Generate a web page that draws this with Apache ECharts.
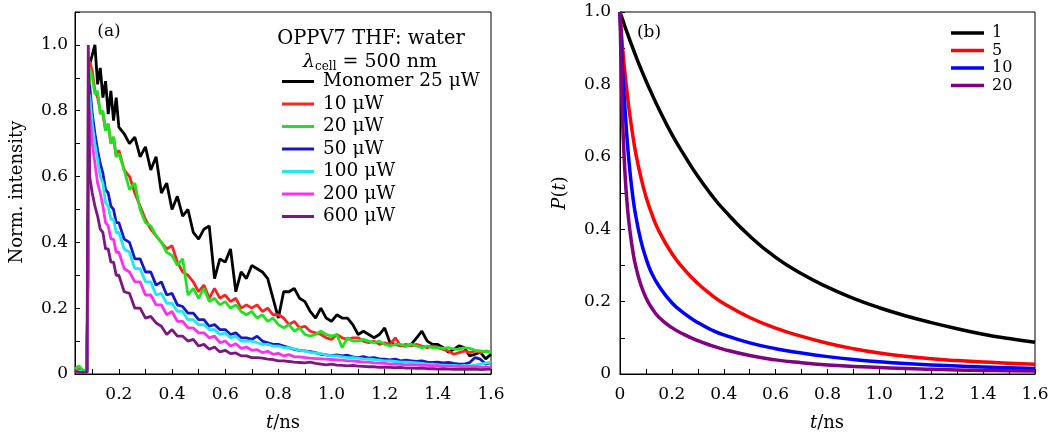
<!DOCTYPE html>
<html>
<head>
<meta charset="utf-8">
<script src="https://cdn.jsdelivr.net/npm/echarts@6/dist/echarts.min.js"></script>
<style>
  html, body { margin: 0; padding: 0; background: #fff; }
  #chart { width: 1052px; height: 432px; }
</style>
</head>
<body>
<div id="chart"></div>
<script>
// panel (a): measured decay traces, shared time grid (ns)
const tA = [
  0.035, 0.05, 0.065, 0.08, 0.085, 0.09, 0.10, 0.11, 0.12, 0.13,
  0.14, 0.15, 0.16, 0.17, 0.18, 0.19, 0.20, 0.22, 0.24, 0.26,
  0.28, 0.30, 0.32, 0.34, 0.36, 0.38, 0.40, 0.42, 0.44, 0.46,
  0.48, 0.50, 0.52, 0.54, 0.56, 0.58, 0.60, 0.62, 0.64, 0.66,
  0.68, 0.70, 0.72, 0.74, 0.76, 0.78, 0.80, 0.82, 0.84, 0.86,
  0.88, 0.90, 0.92, 0.94, 0.96, 0.98, 1.00, 1.02, 1.04, 1.06,
  1.08, 1.10, 1.12, 1.14, 1.16, 1.18, 1.20, 1.22, 1.24, 1.26,
  1.28, 1.30, 1.32, 1.34, 1.36, 1.38, 1.40, 1.42, 1.44, 1.46,
  1.48, 1.50, 1.52, 1.54, 1.56, 1.58, 1.60
];
const monomer25 = [
  0.01, 0.012, 0.008, 0.01, 0.01, 0.94, 0.97, 1.0, 0.88, 0.93,
  0.84, 0.89, 0.79, 0.86, 0.77, 0.84, 0.75, 0.73, 0.70, 0.72,
  0.66, 0.69, 0.62, 0.66, 0.55, 0.58, 0.50, 0.54, 0.48, 0.50,
  0.43, 0.41, 0.44, 0.45, 0.29, 0.35, 0.34, 0.38, 0.25, 0.31,
  0.29, 0.33, 0.32, 0.31, 0.29, 0.23, 0.17, 0.25, 0.25, 0.26,
  0.23, 0.22, 0.19, 0.17, 0.20, 0.17, 0.16, 0.18, 0.17, 0.17,
  0.15, 0.12, 0.13, 0.12, 0.11, 0.12, 0.14, 0.095, 0.09, 0.086,
  0.085, 0.09, 0.11, 0.13, 0.10, 0.09, 0.09, 0.08, 0.066, 0.075,
  0.086, 0.08, 0.055, 0.06, 0.066, 0.046, 0.06
];
const p10 = [
  0.015, 0.02, 0.01, 0.01, 0.01, 0.95, 0.92, 0.86, 0.84, 0.80,
  0.79, 0.74, 0.76, 0.70, 0.72, 0.66, 0.68, 0.62, 0.60, 0.55,
  0.51, 0.47, 0.44, 0.42, 0.40, 0.38, 0.39, 0.34, 0.31, 0.30,
  0.28, 0.25, 0.27, 0.23, 0.26, 0.23, 0.24, 0.22, 0.23, 0.20,
  0.21, 0.20, 0.21, 0.19, 0.20, 0.18, 0.18, 0.17, 0.15, 0.16,
  0.14, 0.145, 0.13, 0.125, 0.12, 0.11, 0.105, 0.12, 0.11, 0.105,
  0.11, 0.11, 0.10, 0.095, 0.10, 0.09, 0.095, 0.09, 0.11, 0.085,
  0.09, 0.085, 0.09, 0.085, 0.08, 0.085, 0.08, 0.075, 0.07, 0.06,
  0.065, 0.07, 0.065, 0.07, 0.065, 0.07, 0.066
];
const p20 = [
  0.015, 0.025, 0.01, 0.01, 0.01, 0.93, 0.90, 0.85, 0.86, 0.79,
  0.80, 0.74, 0.76, 0.70, 0.72, 0.66, 0.67, 0.62, 0.56, 0.58,
  0.50, 0.46, 0.45, 0.42, 0.40, 0.37, 0.36, 0.33, 0.35, 0.24,
  0.26, 0.23, 0.26, 0.22, 0.23, 0.21, 0.22, 0.20, 0.21, 0.19,
  0.18, 0.19, 0.17, 0.18, 0.16, 0.17, 0.15, 0.14, 0.15, 0.13,
  0.14, 0.12, 0.115, 0.12, 0.13, 0.12, 0.115, 0.12, 0.08, 0.11,
  0.10, 0.10, 0.105, 0.10, 0.095, 0.10, 0.09, 0.085, 0.09, 0.09,
  0.085, 0.09, 0.085, 0.08, 0.085, 0.08, 0.08, 0.078, 0.08, 0.076,
  0.075, 0.08, 0.078, 0.072, 0.07, 0.068, 0.068
];
const p50 = [
  0.01, 0.01, 0.005, 0.005, 0.005, 0.88, 0.79, 0.73, 0.68, 0.64,
  0.61, 0.56, 0.55, 0.51, 0.50, 0.46, 0.46, 0.41, 0.40, 0.35,
  0.35, 0.31, 0.31, 0.27, 0.28, 0.24, 0.245, 0.21, 0.205, 0.185,
  0.185, 0.165, 0.165, 0.145, 0.15, 0.135, 0.135, 0.12, 0.125, 0.11,
  0.11, 0.105, 0.115, 0.10, 0.095, 0.09, 0.09, 0.085, 0.08, 0.075,
  0.072, 0.07, 0.068, 0.065, 0.06, 0.058, 0.056, 0.058, 0.055, 0.057,
  0.052, 0.05, 0.053, 0.048, 0.05, 0.046, 0.045, 0.043, 0.045, 0.04,
  0.042, 0.04, 0.038, 0.04, 0.036, 0.035, 0.036, 0.034, 0.035, 0.032,
  0.03, 0.03, 0.035, 0.05, 0.045, 0.03, 0.035
];
const p100 = [
  0.01, 0.01, 0.005, 0.005, 0.005, 0.85, 0.76, 0.70, 0.65, 0.60,
  0.58, 0.52, 0.51, 0.47, 0.47, 0.43, 0.43, 0.38, 0.37, 0.32,
  0.32, 0.28, 0.28, 0.24, 0.245, 0.215, 0.215, 0.19, 0.19, 0.165,
  0.165, 0.15, 0.15, 0.135, 0.135, 0.12, 0.125, 0.11, 0.115, 0.10,
  0.10, 0.10, 0.095, 0.09, 0.09, 0.085, 0.085, 0.08, 0.08, 0.076,
  0.072, 0.07, 0.066, 0.064, 0.062, 0.058, 0.055, 0.055, 0.052, 0.05,
  0.05, 0.048, 0.046, 0.045, 0.044, 0.042, 0.04, 0.04, 0.038, 0.036,
  0.036, 0.035, 0.034, 0.032, 0.03, 0.03, 0.028, 0.027, 0.026, 0.026,
  0.025, 0.026, 0.025, 0.027, 0.03, 0.033, 0.036
];
const p200 = [
  0.01, 0.005, 0.005, 0.005, 0.005, 0.80, 0.70, 0.64, 0.58, 0.55,
  0.51, 0.46, 0.45, 0.41, 0.41, 0.37, 0.37, 0.32, 0.31, 0.28,
  0.28, 0.24, 0.24, 0.21, 0.21, 0.18, 0.19, 0.16, 0.16, 0.14,
  0.14, 0.125, 0.125, 0.11, 0.115, 0.095, 0.10, 0.085, 0.092, 0.078,
  0.082, 0.072, 0.074, 0.065, 0.069, 0.06, 0.063, 0.055, 0.059, 0.052,
  0.052, 0.05, 0.048, 0.047, 0.046, 0.045, 0.044, 0.043, 0.042, 0.04,
  0.04, 0.038, 0.036, 0.036, 0.034, 0.033, 0.032, 0.03, 0.03, 0.029,
  0.028, 0.028, 0.027, 0.026, 0.026, 0.025, 0.025, 0.024, 0.024, 0.023,
  0.023, 0.022, 0.022, 0.022, 0.021, 0.021, 0.02
];
const p600 = [
  0.01, 0.005, 0.005, 0.005, 1.0, 0.60, 0.55, 0.51, 0.48, 0.44,
  0.43, 0.38, 0.38, 0.34, 0.34, 0.30, 0.30, 0.25, 0.245, 0.20,
  0.20, 0.17, 0.175, 0.155, 0.145, 0.12, 0.135, 0.115, 0.115, 0.10,
  0.105, 0.085, 0.09, 0.075, 0.082, 0.067, 0.072, 0.062, 0.064, 0.055,
  0.055, 0.05, 0.05, 0.048, 0.045, 0.044, 0.04, 0.04, 0.038, 0.036,
  0.035, 0.034, 0.036, 0.032, 0.03, 0.028, 0.03, 0.027, 0.026, 0.025,
  0.026, 0.024, 0.023, 0.022, 0.022, 0.02, 0.02, 0.02, 0.019, 0.02,
  0.018, 0.018, 0.017, 0.018, 0.016, 0.016, 0.015, 0.016, 0.015, 0.014,
  0.015, 0.014, 0.014, 0.015, 0.013, 0.014, 0.015
];
const namesA = ['Monomer 25 μW', '10 μW', '20 μW', '50 μW', '100 μW', '200 μW', '600 μW'];
const colorsA = ['#000000', '#ff2424', '#22e022', '#1616c4', '#20e8f0', '#ff30f0', '#7a1880'];
const valuesA = [monomer25, p10, p20, p50, p100, p200, p600];

// panel (b): model curves P(t)
const tB = [0, 0.005, 0.01, 0.02, 0.03, 0.04, 0.05, 0.06, 0.08, 0.10, 0.12, 0.15, 0.20, 0.25,
  0.30, 0.35, 0.40, 0.50, 0.60, 0.70, 0.80, 0.90, 1.00, 1.10, 1.20, 1.30, 1.40, 1.50, 1.60];
const pt1 = [1.0, 0.989, 0.979, 0.958, 0.938, 0.918, 0.899, 0.880, 0.844, 0.810, 0.778, 0.732, 0.662, 0.602,
  0.546, 0.497, 0.454, 0.381, 0.322, 0.277, 0.24, 0.209, 0.183, 0.161, 0.142, 0.125, 0.11, 0.098, 0.088];
const pt5 = [1.0, 0.945, 0.90, 0.825, 0.76, 0.705, 0.656, 0.613, 0.545, 0.49, 0.447, 0.395, 0.333, 0.287,
  0.25, 0.22, 0.195, 0.156, 0.127, 0.104, 0.085, 0.07, 0.058, 0.049, 0.042, 0.037, 0.033, 0.03, 0.027];
const pt10 = [1.0, 0.905, 0.835, 0.725, 0.625, 0.548, 0.487, 0.44, 0.37, 0.32, 0.282, 0.243, 0.197, 0.166,
  0.142, 0.123, 0.108, 0.086, 0.07, 0.058, 0.048, 0.04, 0.034, 0.029, 0.025, 0.022, 0.019, 0.017, 0.015];
const pt20 = [1.0, 0.82, 0.70, 0.545, 0.45, 0.386, 0.337, 0.3, 0.247, 0.211, 0.185, 0.157, 0.128, 0.108,
  0.092, 0.079, 0.068, 0.051, 0.039, 0.031, 0.025, 0.021, 0.018, 0.015, 0.013, 0.011, 0.010, 0.009, 0.008];
const namesB = ['1', '5', '10', '20'];
const colorsB = ['#000000', '#ff0000', '#0000ff', '#800080'];
const valuesB = [pt1, pt5, pt10, pt20];

const FONT = 'DejaVu Serif';

const pair = (ts, vs) => ts.map((t, i) => [t, vs[i]]);

// y 刻度标签：只标偶数位
const evenLabel = (v) => {
  const k = Math.round(v * 10);
  if (k === 0) return '0';
  return k % 2 === 0 ? (k / 10).toFixed(1) : '';
};

const tickStyle = { inside: true, length: 5, lineStyle: { color: '#000', width: 1 } };
const lineAxis = { lineStyle: { color: '#000', width: 1 } };
const labelStyle = { color: '#000', fontFamily: FONT, fontSize: 17 };

const ticksA = [0.1, 0.2, 0.3, 0.4, 0.5, 0.6, 0.7, 0.8, 0.9, 1.0, 1.1, 1.2, 1.3, 1.4, 1.5, 1.6];
const labelsA = [0.2, 0.4, 0.6, 0.8, 1.0, 1.2, 1.4, 1.6];

const chart = echarts.init(document.getElementById('chart'));

const seriesA = valuesA.map((vals, i) => ({
  name: namesA[i],
  type: 'line',
  xAxisIndex: 0,
  yAxisIndex: 0,
  data: pair(tA, vals),
  showSymbol: false,
  color: colorsA[i],
  lineStyle: { width: 2.8, color: colorsA[i] }
}));

const seriesB = valuesB.map((vals, i) => ({
  name: namesB[i],
  type: 'line',
  xAxisIndex: 1,
  yAxisIndex: 1,
  data: pair(tB, vals),
  showSymbol: false,
  smooth: 0.5,
  color: colorsB[i],
  lineStyle: { width: 3.5, color: colorsB[i] }
}));

const option = {
  animation: false,
  backgroundColor: '#fff',
  grid: [
    { left: 75, top: 12, width: 416, height: 362, show: true, borderColor: '#000', borderWidth: 1 },
    { left: 620, top: 12, width: 415, height: 362, show: true, borderColor: '#000', borderWidth: 1 }
  ],
  xAxis: [
    {
      gridIndex: 0, type: 'value', min: 0.035, max: 1.6,
      axisLine: lineAxis,
      axisTick: Object.assign({ customValues: ticksA }, tickStyle),
      axisLabel: Object.assign({ customValues: labelsA, margin: 12, formatter: v => v.toFixed(1) }, labelStyle),
      splitLine: { show: false }
    },
    {
      gridIndex: 1, type: 'value', min: 0, max: 1.6, interval: 0.1,
      axisLine: lineAxis,
      axisTick: tickStyle,
      axisLabel: Object.assign({ margin: 12, formatter: evenLabel, showMaxLabel: true }, labelStyle),
      splitLine: { show: false }
    }
  ],
  yAxis: [
    {
      gridIndex: 0, type: 'value', min: 0, max: 1.1, interval: 0.1,
      axisLine: lineAxis,
      axisTick: tickStyle,
      axisLabel: Object.assign({ margin: 7, formatter: evenLabel }, labelStyle),
      splitLine: { show: false }
    },
    {
      gridIndex: 1, type: 'value', min: 0, max: 1, interval: 0.1,
      axisLine: lineAxis,
      axisTick: tickStyle,
      axisLabel: Object.assign({ margin: 9, formatter: evenLabel }, labelStyle),
      splitLine: { show: false }
    }
  ],
  legend: [
    {
      data: namesA, orient: 'vertical', left: 282, top: 72, padding: 0,
      icon: 'rect', itemWidth: 32, itemHeight: 3, itemGap: 3.5,
      selectedMode: false,
      textStyle: { color: '#000', fontFamily: FONT, fontSize: 18.5, lineHeight: 18.5, padding: [0, 0, 0, 4] }
    },
    {
      data: namesB, orient: 'vertical', left: 951, top: 25, padding: 0,
      icon: 'rect', itemWidth: 33, itemHeight: 3.5, itemGap: 1.5,
      selectedMode: false,
      textStyle: { color: '#000', fontFamily: FONT, fontSize: 16, lineHeight: 16, padding: [0, 0, 0, 3] }
    }
  ],
  graphic: [
    { type: 'text', x: 109, y: 32, style: { text: '(a)', font: '17px "DejaVu Serif"', fill: '#000', textAlign: 'center', textVerticalAlign: 'middle' } },
    { type: 'text', x: 649, y: 33, style: { text: '(b)', font: '17px "DejaVu Serif"', fill: '#000', textAlign: 'center', textVerticalAlign: 'middle' } },
    { type: 'text', x: 371, y: 39, style: { text: 'OPPV7 THF: water', font: '19.5px "DejaVu Serif"', fill: '#000', textAlign: 'center', textVerticalAlign: 'middle' } },
    {
      type: 'text', x: 370, y: 62,
      style: {
        text: '{l|λ}{s|cell}{n| = 500 nm}', fill: '#000', textAlign: 'center', textVerticalAlign: 'middle',
        rich: {
          l: { fontFamily: FONT, fontSize: 19, fontStyle: 'italic', lineHeight: 22 },
          s: { fontFamily: FONT, fontSize: 12, lineHeight: 22, verticalAlign: 'bottom' },
          n: { fontFamily: FONT, fontSize: 19, lineHeight: 22 }
        }
      }
    },
    {
      type: 'text', x: 17, y: 192, rotation: Math.PI / 2,
      style: { text: 'Norm. intensity', font: '18px "DejaVu Serif"', fill: '#000', textAlign: 'center', textVerticalAlign: 'middle' }
    },
    {
      type: 'text', x: 560, y: 193, rotation: Math.PI / 2,
      style: {
        text: '{i|P}{n|(}{i|t}{n|)}', fill: '#000', textAlign: 'center', textVerticalAlign: 'middle',
        rich: {
          i: { fontFamily: FONT, fontSize: 18, fontStyle: 'italic' },
          n: { fontFamily: FONT, fontSize: 18 }
        }
      }
    },
    {
      type: 'text', x: 283, y: 423,
      style: {
        text: '{i|t}{n|/ns}', fill: '#000', textAlign: 'center', textVerticalAlign: 'middle',
        rich: {
          i: { fontFamily: FONT, fontSize: 18, fontStyle: 'italic' },
          n: { fontFamily: FONT, fontSize: 18 }
        }
      }
    },
    {
      type: 'text', x: 827, y: 423,
      style: {
        text: '{i|t}{n|/ns}', fill: '#000', textAlign: 'center', textVerticalAlign: 'middle',
        rich: {
          i: { fontFamily: FONT, fontSize: 18, fontStyle: 'italic' },
          n: { fontFamily: FONT, fontSize: 18 }
        }
      }
    }
  ],
  series: seriesA.concat(seriesB)
};

chart.setOption(option);
</script>
</body>
</html>
